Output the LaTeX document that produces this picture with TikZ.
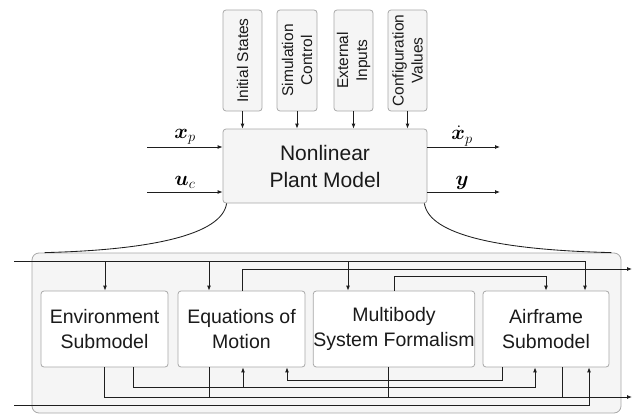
\documentclass[tikz,border=0pt]{standalone}
\usepackage{amsmath}
\usepackage{bm}
\usepackage{fontspec}
\setmainfont{Liberation Sans}
\usetikzlibrary{arrows.meta}
\definecolor{boxline}{HTML}{A8A8A8}
\definecolor{boxfill}{HTML}{F5F5F5}
\definecolor{wire}{HTML}{1E1E1E}
\definecolor{txt}{HTML}{1A1A1A}
\begin{document}
\begin{tikzpicture}[x=1pt,y=-1pt,
  greybox/.style={draw=boxline, fill=boxfill, rounded corners=3pt, line width=0.8pt, inner sep=0pt, text=txt},
  whitebox/.style={draw=boxline, fill=white, rounded corners=3pt, line width=0.8pt, inner sep=0pt, align=center, text=txt, font=\fontsize{19.5}{25}\selectfont, minimum height=76pt},
  rottext/.style={rotate=90, align=center, text=txt, font=\fontsize{15.5}{19}\selectfont},
  mathlbl/.style={text=black, inner sep=1pt, font=\fontsize{20}{22}\selectfont},
  wireline/.style={draw=wire, line width=0.85pt},
  arr/.style={wireline, -{Latex[length=5pt,width=4pt]}}
]
\useasboundingbox (0,0) rectangle (636,417);

% ---------- top part ----------
\node[greybox, minimum width=204pt, minimum height=74pt, align=center,
      font=\fontsize{21}{27}\selectfont] (main) at (325,166) {Nonlinear\\Plant Model};

\node[greybox, minimum width=39pt, minimum height=101pt] (is) at (242.5,60.5) {};
\node[greybox, minimum width=40pt, minimum height=101pt] (sc) at (297,60.5) {};
\node[greybox, minimum width=39pt, minimum height=101pt] (ei) at (353.5,60.5) {};
\node[greybox, minimum width=39pt, minimum height=101pt] (cv) at (407.5,60.5) {};
\node[rottext] (ist) at (is.center) {Initial States};
\node[rottext] (sct) at (sc.center) {Simulation\\Control};
\node[rottext] (eit) at (ei.center) {External\\Inputs};
\node[rottext] (cvt) at (cv.center) {Configuration\\Values};

\foreach \b in {is,sc,ei,cv}{
  \draw[arr] (\b.south) -- (\b.south |- main.north);
}

\coordinate (xin) at (147,147);
\coordinate (uin) at (147,192);
\coordinate (xout) at (500,147);
\coordinate (yout) at (500,192);
\draw[arr] (xin) -- (xin -| main.west);
\draw[arr] (uin) -- (uin -| main.west);
\draw[arr] (main.east |- xout) -- (xout);
\draw[arr] (main.east |- yout) -- (yout);

\node[mathlbl] (lxp) at (185,137) {$\bm{x}_p$};
\node[mathlbl] (luc) at (185,182) {$\bm{u}_c$};
\node[mathlbl] (lxd) at (462,136) {$\dot{\bm{x}}_p$};
\node[mathlbl] (ly) at (462,183) {$\bm{y}$};

% ---------- container ----------
\node[greybox, rounded corners=7pt, minimum width=589pt, minimum height=160pt] (cont) at (326.5,333) {};

\draw[wireline] ([xshift=4pt]main.south west) .. controls (222,235) and (150,250) .. ([xshift=13pt]cont.north west);
\draw[wireline] ([xshift=-3pt]main.south east) .. controls (429,235) and (500,250) .. ([xshift=-10pt]cont.north east);

\node[whitebox, minimum width=127pt] (env) at (104.5,329) {Environment\\Submodel};
\node[whitebox, minimum width=127pt] (eom) at (241.5,329) {Equations of\\Motion};
\node[whitebox, minimum width=160pt] (mb) at (394,329) {Multibody\\System Formalism};
\node[whitebox, minimum width=126pt] (af) at (546,329) {Airframe\\Submodel};

\coordinate (inA) at (14,261);
\coordinate (inB) at (14,405);
\coordinate (outA) at (632,269);
\coordinate (outB) at (632,397);

% top wiring
\draw[arr] (inA) -- (585,261) -- (585,0 |- af.north);
\draw[arr] (105,261) -- (105,0 |- env.north);
\draw[arr] (209,261) -- (209,0 |- eom.north);
\draw[arr] (348,261) -- (348,0 |- mb.north);
\draw[arr] (242,0 |- eom.north) -- (242,269) -- (outA);
\draw[arr] (394,0 |- mb.north) -- (394,276) -- (546,276) -- (546,0 |- af.north);

% bottom wiring
\draw[arr] (104,0 |- env.south) -- (104,397) -- (outB);
\draw[wireline] (209,0 |- eom.south) -- (209,397);
\draw[wireline] (388,0 |- mb.south) -- (388,397);
\draw[wireline] (562,0 |- af.south) -- (562,397);
\draw[arr] (133,0 |- env.south) -- (133,387) -- (535,387) -- (535,0 |- af.south);
\draw[arr] (243,387) -- (243,0 |- eom.south);
\draw[arr] (502,0 |- af.south) -- (502,380) -- (287,380) -- (287,0 |- eom.south);
\draw[arr] (inB) -- (589,405) -- (589,0 |- af.south);
\end{tikzpicture}
\end{document}
